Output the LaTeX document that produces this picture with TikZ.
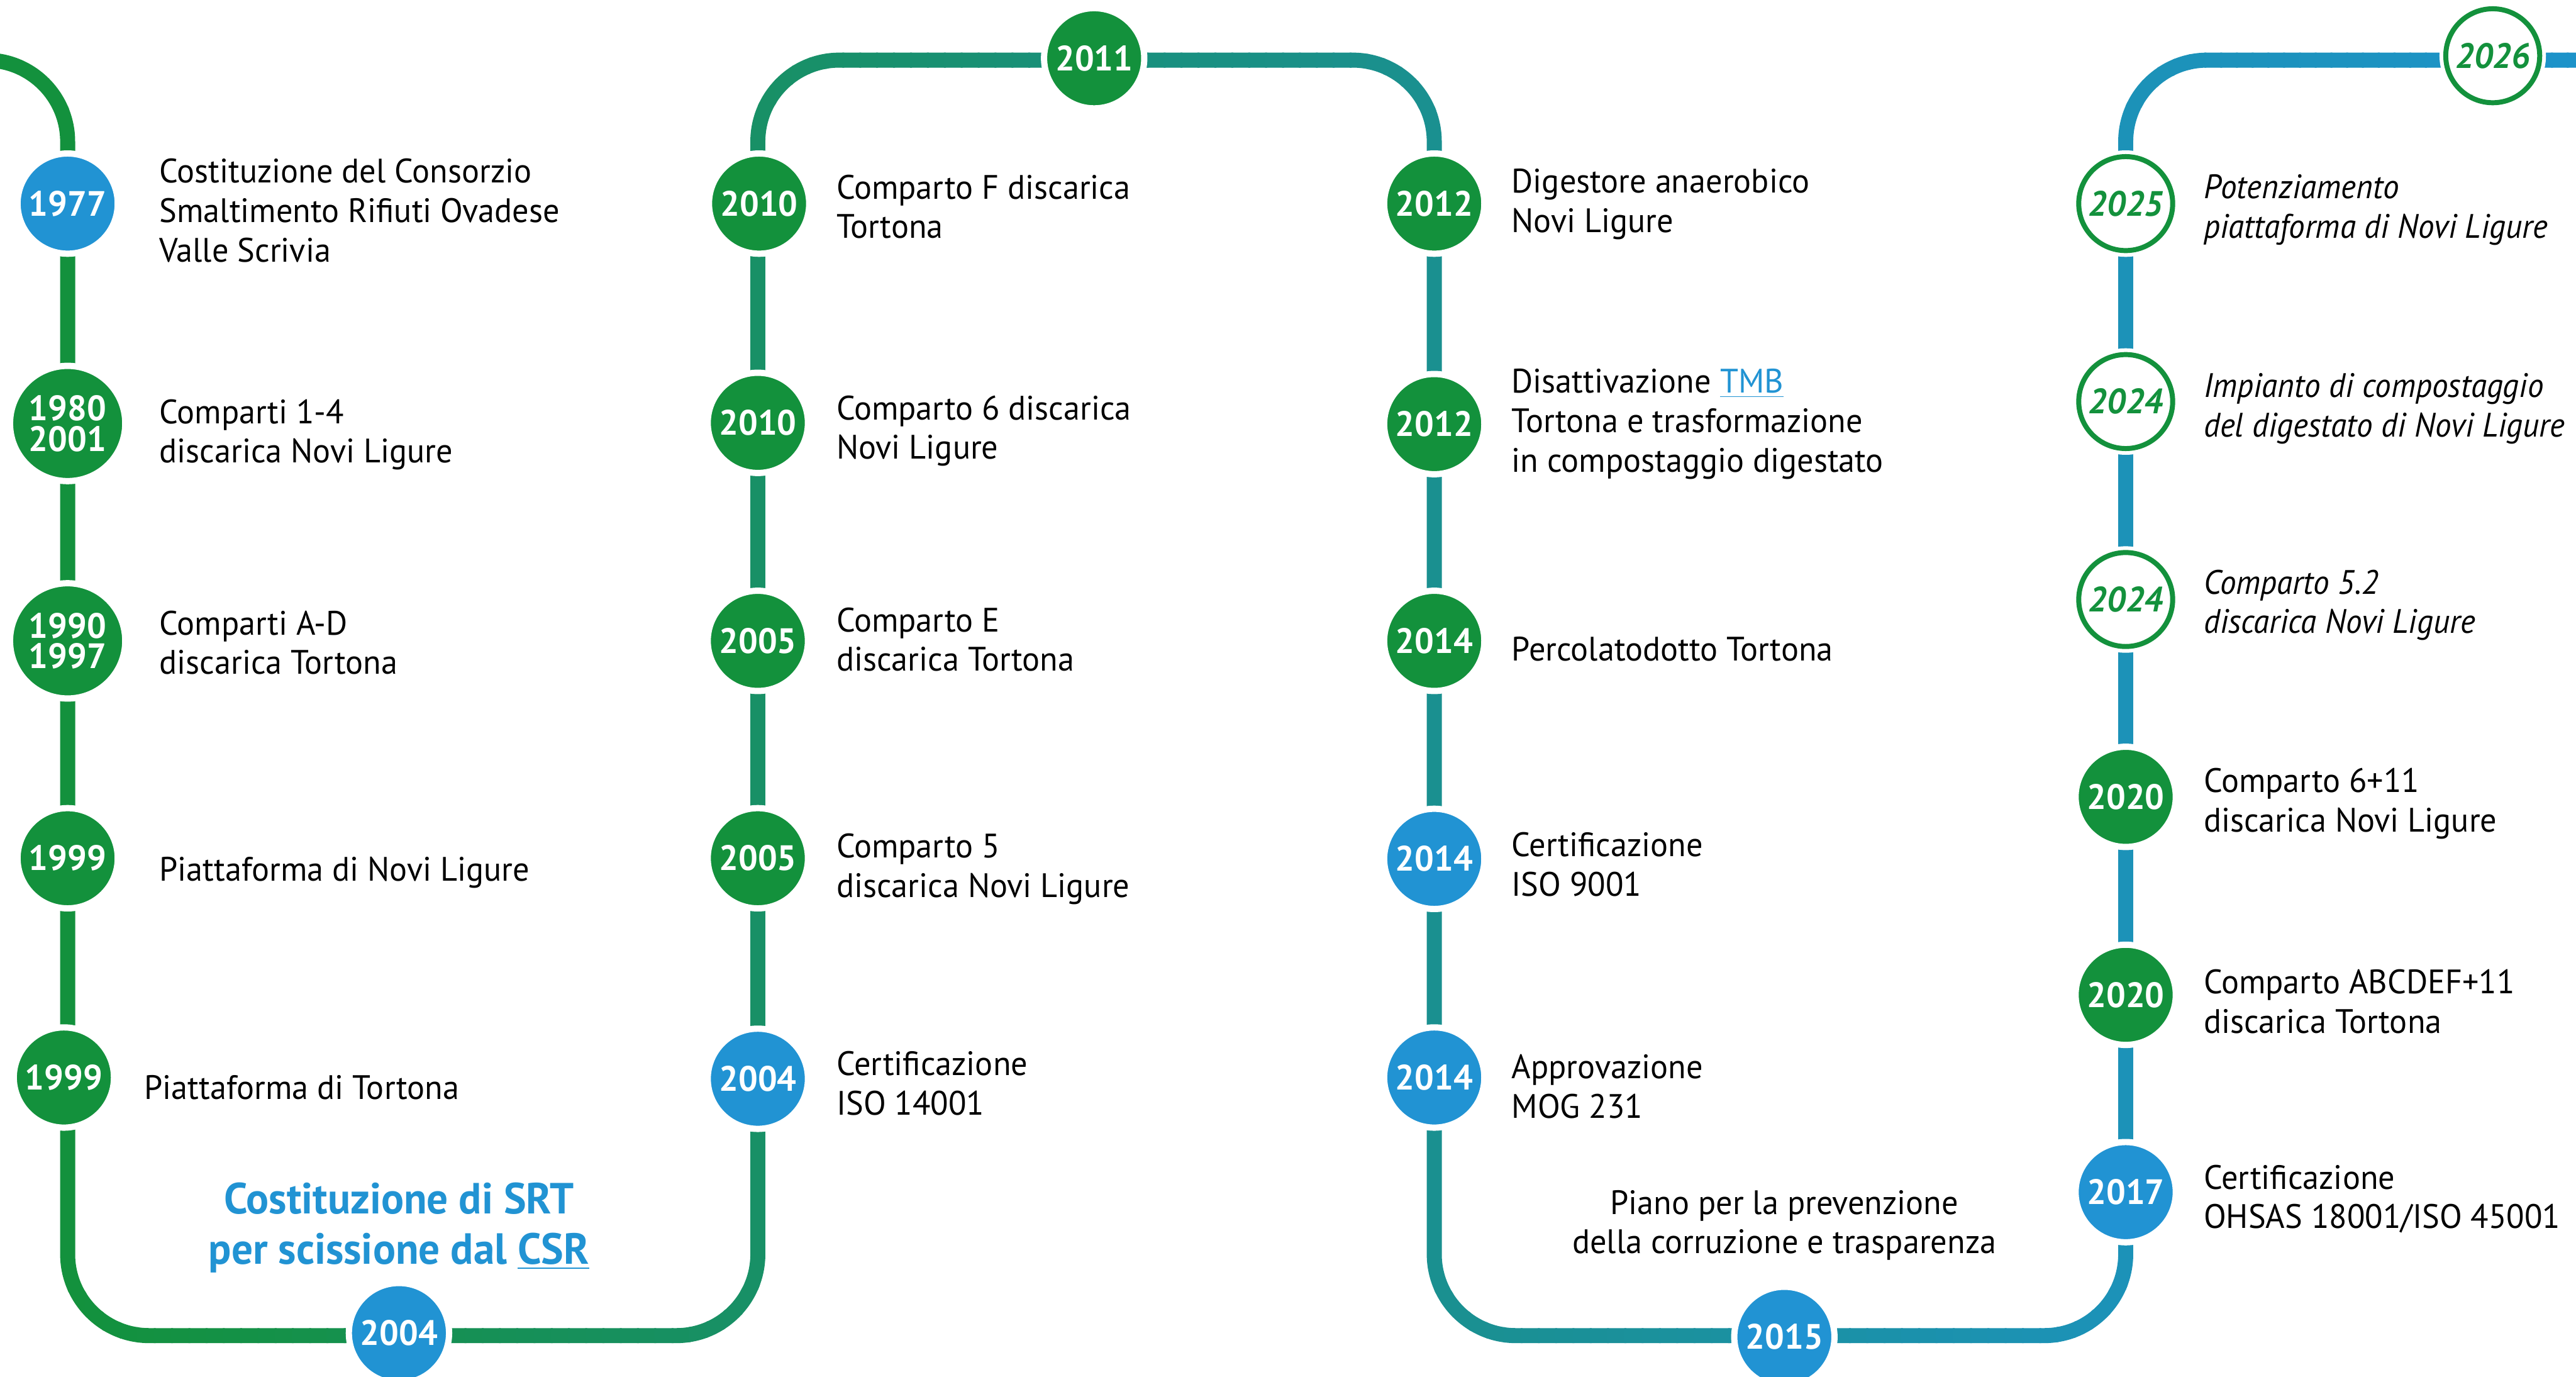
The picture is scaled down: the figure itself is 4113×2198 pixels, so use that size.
\documentclass[tikz,border=0pt]{standalone}
\usepackage{fontspec}
\setmainfont{PT Sans}[FakeStretch=0.97, ItalicFeatures={FakeStretch=0.95}]
\definecolor{cgreen}{RGB}{19,145,60}
\definecolor{cblue}{RGB}{33,147,211}
\definecolor{tA}{RGB}{19,145,61}
\definecolor{tB}{RGB}{24,144,102}
\definecolor{tC}{RGB}{26,144,144}
\definecolor{tD}{RGB}{28,146,184}
\definecolor{tE}{RGB}{30,148,208}
\newcommand\bodyfont{\fontsize{15.4pt}{17.9pt}\selectfont}
\newcommand\yrfont{\fontsize{16pt}{13.9pt}\selectfont\bfseries}
\newcommand\headfont{\fontsize{19.8pt}{23pt}\selectfont\bfseries}
\newcommand\mytrack{(s0) -- (k1) -- (k2) -- (k3) -- (k4) -- (k5) -- (k6) -- (k7) -- (k8) -- (s9)}
\newcommand\gradpart[4]{%
  \foreach \i in {0,...,39}{%
    \pgfmathsetmacro\xa{#1+(#2-#1)/40*\i}%
    \pgfmathsetmacro\xb{#1+(#2-#1)/40*(\i+1)+3}%
    \pgfmathtruncatemacro\pc{100*\i/39}%
    \colorlet{stripcol}{#4!\pc!#3}%
    \begin{scope}
      \clip (\xa,-50) rectangle (\xb,2300);
      \draw[track, draw=stripcol] \mytrack;
    \end{scope}
  }%
}
\begin{document}
\begin{tikzpicture}[x=0.1mm, y=-0.1mm,
  track/.style={line width=2.4mm, rounded corners=13mm},
  yr/.style={circle, fill=#1, draw=white, line width=1mm, minimum size=16mm, inner sep=0pt, text=white, font=\yrfont, align=center},
  yrbig/.style={yr=#1, minimum size=18.4mm},
  yro/.style={circle, fill=white, draw=cgreen, line width=0.8mm, minimum size=15mm, inner sep=0pt, text=cgreen, font=\yrfont\itshape, preaction={draw=white, line width=2mm}},
  txt/.style={anchor=west, align=left, inner sep=0pt, font=\bodyfont, text=black},
  txti/.style={txt, font=\bodyfont\itshape}]
\fill[white] (0,0) rectangle (4113,2198);
\useasboundingbox (0,0) rectangle (4113,2198);
\clip (0,0) rectangle (4113,2198);
% track corner points
\coordinate (s0) at (-200,96);
\coordinate (k1) at (108,96);
\coordinate (k2) at (108,2132);
\coordinate (k3) at (1210,2132);
\coordinate (k4) at (1210,96);
\coordinate (k5) at (2290,96);
\coordinate (k6) at (2290,2132);
\coordinate (k7) at (3394,2132);
\coordinate (k8) at (3394,96);
\coordinate (s9) at (4400,96);
% gradient track
\begin{scope}
  \clip (-250,-50) rectangle (110,2300);
  \draw[track, draw=tA] \mytrack;
\end{scope}
\gradpart{108}{1210}{tA}{tB}
\gradpart{1210}{2290}{tB}{tC}
\gradpart{2290}{3394}{tC}{tD}
\gradpart{3394}{4400}{tD}{tE}
% column 1
\node[yr=cblue] (y1977) at (108,325) {1977};
\node[txt] (t1977) at (254,336) {Costituzione del Consorzio\\Smaltimento Rifiuti Ovadese\\Valle Scrivia};
\node[yrbig=cgreen] (y1980) at (108,676) {1980\\2001};
\node[txt] (t1980) at (254,694) {Comparti 1-4\\discarica Novi Ligure};
\node[yrbig=cgreen] (y1990) at (108,1023) {1990\\1997};
\node[txt] (t1990) at (254,1026) {Comparti A-D\\discarica Tortona};
\node[yr=cgreen] (y1999a) at (108,1370) {1999};
\node[txt] (t1999a) at (254,1393) {Piattaforma di Novi Ligure};
\node[yr=cgreen] (y1999b) at (102,1720) {1999};
\node[txt] (t1999b) at (230,1736) {Piattaforma di Tortona};
\node[align=center, font=\headfont, text=cblue, inner sep=0pt] (srt) at (637,1960) {Costituzione di SRT\\per scissione dal \underline{CSR}};
\node[yr=cblue] (y2004b) at (637,2128) {2004};
% column 2
\node[yr=cgreen] (y2010a) at (1212,325) {2010};
\node[txt] (t2010a) at (1335,330) {Comparto F discarica\\Tortona};
\node[yr=cgreen] (y2010b) at (1210,675) {2010};
\node[txt] (t2010b) at (1335,688) {Comparto 6 discarica\\Novi Ligure};
\node[yr=cgreen] (y2005a) at (1210,1023) {2005};
\node[txt] (t2005a) at (1335,1021) {Comparto E\\discarica Tortona};
\node[yr=cgreen] (y2005b) at (1210,1370) {2005};
\node[txt] (t2005b) at (1335,1387) {Comparto 5\\discarica Novi Ligure};
\node[yr=cblue] (y2004a) at (1210,1722) {2004};
\node[txt] (t2004a) at (1335,1729) {Certificazione\\ISO 14001};
\node[yr=cgreen] (y2011) at (1747,93) {2011};
% column 3
\node[yr=cgreen] (y2012a) at (2290,325) {2012};
\node[txt] (t2012a) at (2413,326) {Digestore anaerobico\\Novi Ligure};
\node[yr=cgreen] (y2012b) at (2290,677) {2012};
\node[txt] (t2012b) at (2413,677) {Disattivazione {\color{cblue}\underline{TMB}}\\Tortona e trasformazione\\in compostaggio digestato};
\node[yr=cgreen] (y2014a) at (2290,1023) {2014};
\node[txt] (t2014a) at (2413,1036) {Percolatodotto Tortona};
\node[yr=cblue] (y2014b) at (2290,1371) {2014};
\node[txt] (t2014b) at (2413,1380) {Certificazione\\ISO 9001};
\node[yr=cblue] (y2014c) at (2290,1720) {2014};
\node[txt] (t2014c) at (2413,1734) {Approvazione\\MOG 231};
\node[align=center, inner sep=0pt, font=\bodyfont] (piano) at (2849,1956) {Piano per la prevenzione\\della corruzione e trasparenza};
\node[yr=cblue] (y2015) at (2849,2134) {2015};
% column 4
\node[yro] (y2025) at (3394,325) {2025};
\node[txti] (t2025) at (3518,335) {Potenziamento\\piattaforma di Novi Ligure};
\node[yro] (y2024a) at (3394,641) {2024};
\node[txti] (t2024a) at (3518,652) {Impianto di compostaggio\\del digestato di Novi Ligure};
\node[yro] (y2024b) at (3394,957) {2024};
\node[txti] (t2024b) at (3518,966) {Comparto 5.2\\discarica Novi Ligure};
\node[yr=cgreen] (y2020a) at (3394,1272) {2020};
\node[txt] (t2020a) at (3518,1283) {Comparto 6+11\\discarica Novi Ligure};
\node[yr=cgreen] (y2020b) at (3394,1588) {2020};
\node[txt] (t2020b) at (3518,1599) {Comparto ABCDEF+11\\discarica Tortona};
\node[yr=cblue] (y2017) at (3394,1903) {2017};
\node[txt] (t2017) at (3518,1914) {Certificazione\\OHSAS 18001/ISO 45001};
\node[yro] (y2026) at (3980,89) {2026};
\end{tikzpicture}
\end{document}
